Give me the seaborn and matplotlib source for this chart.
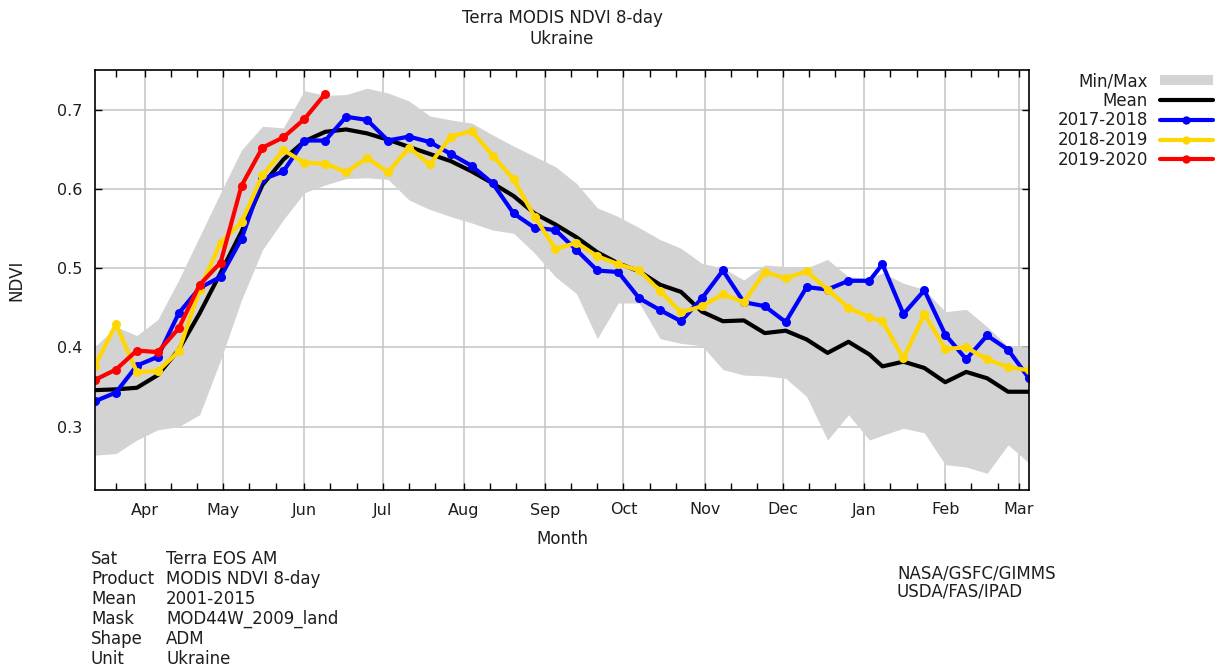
import datetime as dt
import pandas as pd
import matplotlib
matplotlib.use("Agg")
import matplotlib.pyplot as plt
import matplotlib.dates as mdates
from matplotlib.lines import Line2D
from matplotlib.patches import Patch
import seaborn as sns

# 8-day composite start days (day of year), season Mar -> Mar
composite_doy = [65, 73, 81, 89, 97, 105, 113, 121, 129, 137, 145, 153, 161, 169,
                 177, 185, 193, 201, 209, 217, 225, 233, 241, 249, 257, 265, 273,
                 281, 289, 297, 305, 313, 321, 329, 337, 345, 353, 361,
                 1, 9, 17, 25, 33, 41, 49, 57]

ndvi_max = [0.401, 0.426, 0.415, 0.435, 0.485, 0.540, 0.595, 0.649, 0.679, 0.677, 0.724, 0.718,
            0.719, 0.727, 0.721, 0.711, 0.692, 0.687, 0.683, 0.668, 0.654, 0.641, 0.628, 0.607,
            0.576, 0.565, 0.551, 0.536, 0.525, 0.506, 0.500, 0.485, 0.504, 0.502, 0.500,
            0.511, 0.489, 0.487, 0.494, 0.481, 0.473, 0.445, 0.448, 0.426, 0.401, 0.401]
ndvi_min = [0.264, 0.266, 0.283, 0.296, 0.300, 0.315, 0.384, 0.460, 0.523, 0.561, 0.595, 0.605,
            0.613, 0.614, 0.612, 0.586, 0.574, 0.565, 0.557, 0.548, 0.544, 0.519, 0.489, 0.468,
            0.411, 0.456, 0.456, 0.411, 0.405, 0.402, 0.372, 0.365, 0.364, 0.361, 0.338,
            0.283, 0.315, 0.283, 0.289, 0.298, 0.292, 0.252, 0.249, 0.241, 0.277, 0.254]
ndvi_mean = [0.346, 0.347, 0.349, 0.365, 0.397, 0.443, 0.494, 0.546, 0.605, 0.637, 0.660, 0.672,
             0.675, 0.670, 0.662, 0.653, 0.644, 0.635, 0.622, 0.607, 0.591, 0.569, 0.555, 0.539,
             0.520, 0.506, 0.496, 0.479, 0.470, 0.445, 0.433, 0.434, 0.418, 0.421, 0.410,
             0.393, 0.407, 0.391, 0.376, 0.382, 0.374, 0.356, 0.369, 0.361, 0.344, 0.344]
ndvi_2017_2018 = [0.332, 0.343, 0.377, 0.388, 0.443, 0.475, 0.489, 0.537, 0.612, 0.622, 0.661, 0.661,
                  0.691, 0.687, 0.661, 0.666, 0.659, 0.644, 0.629, 0.607, 0.569, 0.551, 0.548, 0.523,
                  0.497, 0.495, 0.462, 0.447, 0.433, 0.462, 0.497, 0.457, 0.452, 0.432, 0.476,
                  0.473, 0.484, 0.484, 0.505, 0.442, 0.472, 0.416, 0.385, 0.415, 0.397, 0.361]
ndvi_2018_2019 = [0.377, 0.429, 0.369, 0.370, 0.395, 0.473, 0.532, 0.558, 0.617, 0.649, 0.633, 0.632,
                  0.621, 0.639, 0.621, 0.652, 0.631, 0.666, 0.673, 0.642, 0.612, 0.565, 0.524, 0.532,
                  0.515, 0.505, 0.497, 0.471, 0.444, 0.452, 0.467, 0.457, 0.495, 0.487, 0.496,
                  0.473, 0.450, 0.438, 0.433, 0.386, 0.442, 0.398, 0.400, 0.385, 0.375, 0.371]
ndvi_2019_2020 = [0.359, 0.372, 0.396, 0.394, 0.424, 0.479, 0.507, 0.604, 0.652, 0.665, 0.688, 0.720]

month_labels = ["Apr", "May", "Jun", "Jul", "Aug", "Sep", "Oct", "Nov", "Dec", "Jan", "Feb", "Mar"]
series_names = ["2017-2018", "2018-2019", "2019-2020"]
series_colors = ["#0000ff", "#ffd700", "#ff0000"]

info_keys = ["Sat", "Product", "Mean", "Mask", "Shape", "Unit"]
info_vals = ["Terra EOS AM", "MODIS NDVI 8-day", "2001-2015", "MOD44W_2009_land", "ADM", "Ukraine"]

# plotting positions on a generic season axis (non-leap years)
dates = []
year = 2018
prev = 0
for d in composite_doy:
    if d < prev:
        year += 1
    prev = d
    dates.append(pd.Timestamp(dt.date(year, 1, 1)) + pd.Timedelta(days=d - 1 + 7))

df = pd.DataFrame({
    "date": dates,
    "min": ndvi_min,
    "max": ndvi_max,
    "mean": ndvi_mean,
    series_names[0]: ndvi_2017_2018,
    series_names[1]: ndvi_2018_2019,
})
df[series_names[2]] = ndvi_2019_2020 + [None] * (len(dates) - len(ndvi_2019_2020))

TXT = "#1e1e1e"
sns.set_theme(style="white")
plt.rcParams["font.family"] = ["DejaVu Sans"]
plt.rcParams["font.size"] = 12
plt.rcParams["text.color"] = TXT
plt.rcParams["axes.labelcolor"] = TXT

W, H = 1216, 666
fig = plt.figure(figsize=(W / 100, H / 100), dpi=100)
ax = fig.add_axes([95 / W, 1 - 490 / H, (1029 - 95) / W, (490 - 70) / H])

ax.fill_between(df["date"], df["min"], df["max"], color="#d3d3d3", lw=0, zorder=1)
sns.lineplot(data=df, x="date", y="mean", ax=ax, color="black", lw=3, zorder=3)
for name, col in zip(series_names, series_colors):
    sub = df[["date", name]].dropna()
    sns.lineplot(data=sub, x="date", y=name, ax=ax, color=col, lw=3, marker="o",
                 markersize=6.5, markeredgewidth=0, zorder=4)

ax.set_xlim(dates[0], dates[-1])
ax.set_ylim(0.22, 0.75)
ax.set_yticks([0.3, 0.4, 0.5, 0.6, 0.7])
ax.set_yticklabels(["0.3", "0.4", "0.5", "0.6", "0.7"])

month_starts = [pd.Timestamp(2018, m, 1) for m in range(4, 13)] + \
               [pd.Timestamp(2019, m, 1) for m in range(1, 4)]
ax.set_xticks(month_starts)
ax.set_xticklabels(month_labels)
ax.xaxis.set_minor_locator(mdates.DayLocator(bymonthday=[11, 21]))

ax.grid(True, which="major", color="#c4c4c4", lw=1.1, zorder=0)
ax.set_axisbelow(True)
for s in ax.spines.values():
    s.set_color("black")
    s.set_linewidth(1.2)
    s.set_zorder(6)
ax.tick_params(axis="both", which="both", direction="in", top=True, right=True,
               bottom=True, left=True, color="black", labelsize=11.5, labelcolor=TXT)
ax.tick_params(axis="both", which="major", length=5, width=1)
ax.tick_params(axis="x", which="minor", length=5, width=1)
ax.tick_params(axis="x", which="major", pad=9)
ax.tick_params(axis="y", which="major", pad=9)

ax.set_xlabel("Month", fontsize=12, labelpad=9)
ax.set_ylabel("NDVI", fontsize=12, labelpad=23)

fig.text(562 / W, 1 - 18 / H, "Terra MODIS NDVI 8-day", ha="center", va="center", fontsize=12)
fig.text(562 / W, 1 - 39 / H, "Ukraine", ha="center", va="center", fontsize=12)

handles = [Patch(facecolor="#d3d3d3", edgecolor="none"),
           Line2D([], [], color="black", lw=3)]
for col in series_colors:
    handles.append(Line2D([], [], color=col, lw=3, marker="o", markersize=6, markeredgewidth=0))
labels = ["Min/Max", "Mean"] + series_names
fig.legend(handles, labels, loc="upper right", bbox_to_anchor=(1213 / W, 1 - 72 / H),
           frameon=False, markerfirst=False, handlelength=3.2, handleheight=0.5,
           handletextpad=0.7, labelspacing=0.1, borderpad=0, borderaxespad=0, fontsize=12)

for i, (k, v) in enumerate(zip(info_keys, info_vals)):
    y = 1 - (559 + 20 * i) / H
    fig.text(91 / W, y, k, ha="left", va="center", fontsize=12)
    fig.text(166 / W, y, v, ha="left", va="center", fontsize=12)
fig.text(897 / W, 1 - 573 / H, "NASA/GSFC/GIMMS", ha="left", va="center", fontsize=12)
fig.text(897 / W, 1 - 592 / H, "USDA/FAS/IPAD", ha="left", va="center", fontsize=12)

fig.savefig("out.png", dpi=100, facecolor="white")
